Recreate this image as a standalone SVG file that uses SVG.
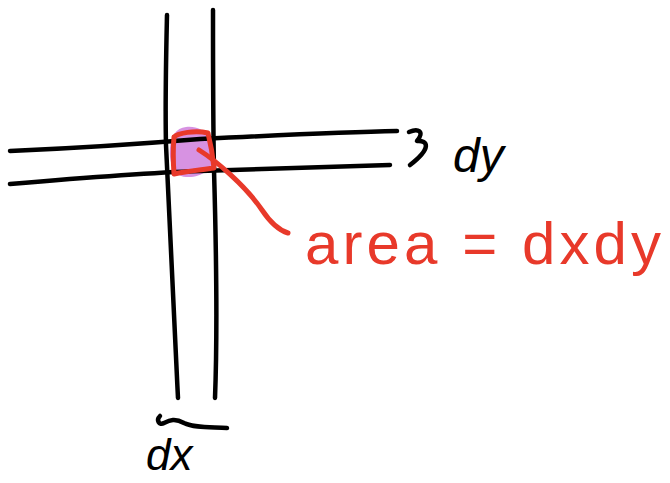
<svg xmlns="http://www.w3.org/2000/svg" width="670" height="483" viewBox="0 0 670 483">
<style>
.k{fill:none;stroke:#000;stroke-width:4.5;stroke-linecap:round;stroke-linejoin:round}
.r{fill:none;stroke:#e8392a;stroke-width:5;stroke-linecap:round;stroke-linejoin:round}
.tk{font-family:"Liberation Sans",Arial,sans-serif;fill:#000}
.tr{font-family:"Liberation Sans",Arial,sans-serif;fill:#e8392a}
</style>
<rect width="670" height="483" fill="#fff"/>
<g id="area-fill">
<path d="M186,127 C205,125 215,140 214,155 C213,170 201,178 186,177 C172,176 169,160 170,148 C171,136 176,128 186,127 Z" fill="#d792e2"/>
</g>
<g id="connectors">
<path class="k" d="M167,15 C166,60 165,100 166,145 C168,200 173,300 178,398"/>
<path class="k" d="M213,10 C213,60 213,120 214,170 C216,240 218,320 215,398"/>
<path class="k" d="M10,151 C80,148 140,144 200,139 C280,135 340,132 397,131"/>
<path class="k" d="M10,184 C80,178 140,173 200,171 C280,168 340,166 390,165"/>
<path class="k" d="M160,416 C156,420 159,426 164,423 C170,420 175,418 184,423 C194,428 210,427 227,428"/>
<path class="k" d="M409,132 C418,128 425,131 417,141 C428,140 432,148 410,165"/>
</g>
<g id="square">
<path class="r" d="M174,137 C178,133 195,130 208,133 C211,145 213,158 214,168 C200,170 186,171 174,174 C173,160 173,148 174,137"/>
<path class="r" d="M199,150 C215,160 245,185 262,210 C270,222 278,230 288,233"/>
</g>
<g id="label-dy"><text class="tk" x="453" y="172" font-size="48" font-style="italic">dy</text></g>
<g id="label-dx"><text class="tk" x="146" y="470" font-size="44" font-style="italic">dx</text></g>
<g id="label-area"><text class="tr" x="305" y="264" font-size="60" textLength="356" lengthAdjust="spacing">area = dxdy</text></g>
</svg>
